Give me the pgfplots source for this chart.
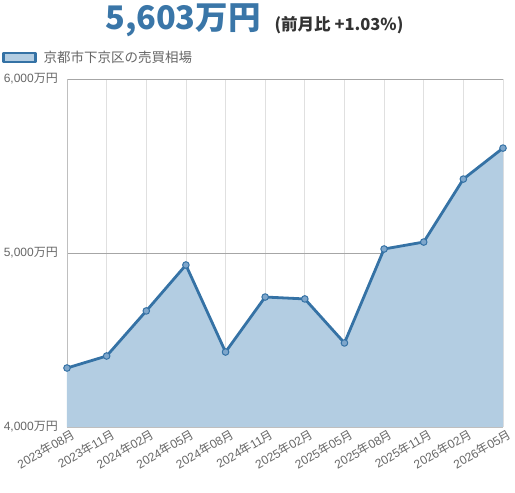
\documentclass[border=0pt]{standalone}
\usepackage{pgfplots}
\pgfplotsset{compat=1.18}
\usepackage{fontspec}
\setmainfont{Liberation Sans}
\newfontfamily\cjk{Noto Sans CJK JP}
\definecolor{linec}{HTML}{3572A5}
\definecolor{fillc}{HTML}{B3CDE2}
\definecolor{markc}{HTML}{7EA6CB}
\definecolor{titlec}{HTML}{3A76A8}
\definecolor{labc}{HTML}{666666}
\newcommand{\ym}[2]{#1{\cjk 年}#2{\cjk 月}}
\newcommand{\man}[1]{#1{\cjk 万円}}
\begin{document}
\begin{tikzpicture}[x=1pt,y=1pt]
\useasboundingbox (0,0) rectangle (515,493);
\node[anchor=base, text=titlec, font=\cjk\bfseries\fontsize{32.5}{35}\selectfont] at (183,463) {5,603万円};
\node[anchor=base, text=black!80, font=\cjk\bfseries\fontsize{16.5}{18}\selectfont] at (339,462) {(前月比 +1.03\%)};
\begin{axis}[
  at={(67pt,66pt)}, anchor=south west,
  scale only axis, width=436pt, height=348pt,
  xmin=0, xmax=11, ymin=4000, ymax=6000,
  xtick={0,...,11},
  xticklabels={\ym{2023}{08},\ym{2023}{11},\ym{2024}{02},\ym{2024}{05},\ym{2024}{08},\ym{2024}{11},\ym{2025}{02},\ym{2025}{05},\ym{2025}{08},\ym{2025}{11},\ym{2026}{02},\ym{2026}{05}},
  ytick={4000,5000,6000},
  yticklabels={\man{4,000},\man{5,000},\man{6,000}},
  major tick length=0pt,
  x tick label style={rotate=30, anchor=north east, font=\fontsize{12}{13}\selectfont, text=labc, inner sep=1pt, xshift=4pt, yshift=-2pt},
  y tick label style={font=\fontsize{12}{13}\selectfont, text=labc, inner sep=1pt, xshift=-8pt},
  axis x line*=bottom, axis y line*=left,
  axis line style={draw=black!25, line width=0.8pt},
  xmajorgrids, ymajorgrids,
  x grid style={draw=black!12, line width=0.8pt},
  y grid style={draw=black!35, line width=0.8pt},
  legend style={at={(-0.149,1.087)}, anchor=north west, draw=none, fill=none, inner sep=0pt, font=\cjk\fontsize{13.5}{15}\selectfont, text=labc, nodes={inner xsep=7pt}},
  legend cell align=left,
  clip=false,
]
\addplot[fill=fillc, draw=none, forget plot] coordinates {
(0,4339) (1,4408) (2,4667) (3,4931) (4,4431) (5,4747) (6,4736) (7,4483) (8,5023) (9,5063) (10,5425) (11,5603)
} \closedcycle;
\addplot[draw=linec, line width=2.8pt, line join=round, mark=*, mark size=3.3pt, mark options={fill=markc, draw=linec, line width=1pt},
  legend image code/.code={\draw[fill=fillc, draw=linec, line width=2.5pt] (0pt,-4.5pt) rectangle (32pt,4.5pt);}] coordinates {
(0,4339) (1,4408) (2,4667) (3,4931) (4,4431) (5,4747) (6,4736) (7,4483) (8,5023) (9,5063) (10,5425) (11,5603)
};
\addlegendentry{京都市下京区の売買相場}
\end{axis}
\end{tikzpicture}
\end{document}
